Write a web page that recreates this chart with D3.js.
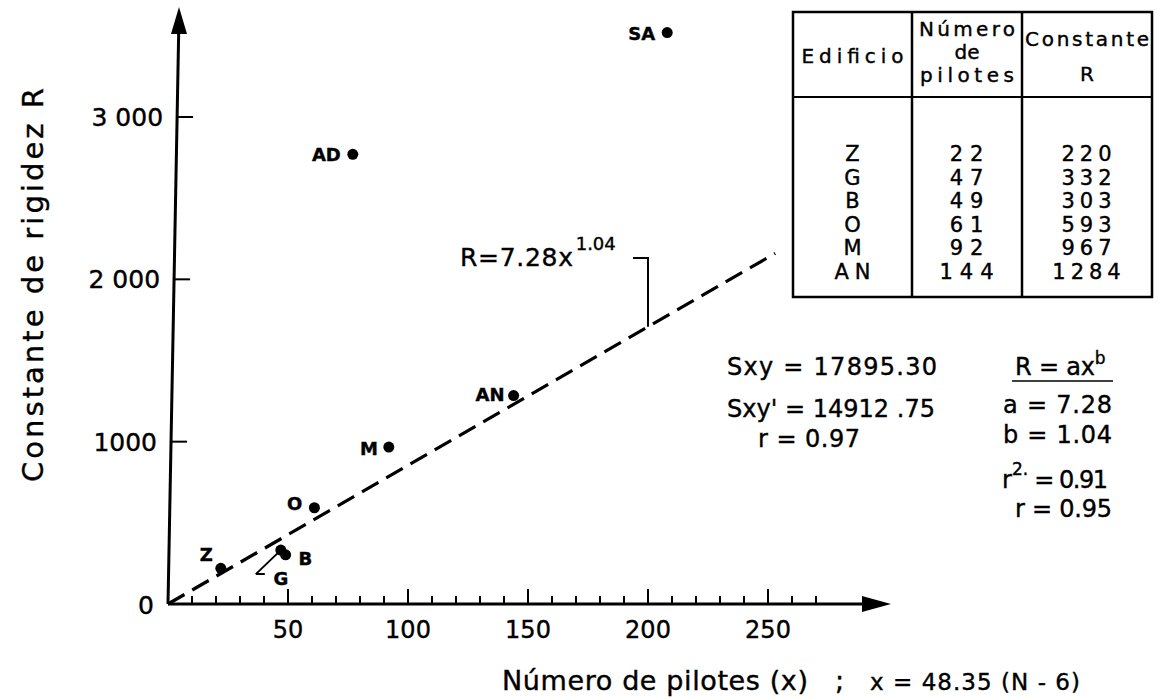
<!DOCTYPE html>
<meta charset="utf-8">
<script src="https://d3js.org/d3.v7.min.js"></script>
<style>
  body { margin: 0; background: #fff; }
  text { font-family: "DejaVu Sans", sans-serif; fill: #000; stroke: #000; stroke-width: 0.4px; }
</style>
<div id="chart"></div>
<script>

// buildings in the table (number of piles, rigidity constant R)
var buildings = ["Z", "G", "B", "O", "M", "AN"]
var piles     = [22, 47, 49, 61, 92, 144]
var rigidity  = [220, 332, 303, 593, 967, 1284]

// two buildings plotted but not in the table
var extraNames = ["AD", "SA"]
var extraPiles = [77, 208]
var extraR     = [2770, 3520]

// fitted line R = 7.28 x^1.04, as drawn (straight)
var fitX = [0, 253]
var fitR = [0, 2160]

var yTicks = [1000, 2000, 3000]
var yTickLabels = ["1000", "2 000", "3 000"]
var xTicks = [50, 100, 150, 200, 250]

var width = 1158, height = 699

var svg = d3.select("#chart").append("svg")
    .attr("width", width)
    .attr("height", height)

var x = d3.scaleLinear().domain([0, 300]).range([168, 888])
var y = d3.scaleLinear().domain([0, 3000]).range([604, 117])

// ---- x axis ----
svg.append("line")
    .attr("x1", x(0)).attr("y1", y(0))
    .attr("x2", 870).attr("y2", y(0))
    .attr("stroke", "#000").attr("stroke-width", 3)
svg.append("path")
    .attr("d", "M862," + (y(0) - 8) + " L891," + y(0) + " L862," + (y(0) + 8) + "Z")
    .attr("fill", "#000")

svg.selectAll(".xtick")
  .data(d3.range(10, 280, 10))
  .enter().append("line")
    .attr("x1", function(d) { return x(d) })
    .attr("x2", function(d) { return x(d) })
    .attr("y1", y(0))
    .attr("y2", function(d) { return y(0) - (d % 50 == 0 ? 15 : 8) })
    .attr("stroke", "#000").attr("stroke-width", 2)

svg.selectAll(".xlab")
  .data(xTicks)
  .enter().append("text")
    .attr("x", function(d) { return x(d) })
    .attr("y", 638)
    .attr("text-anchor", "middle")
    .style("font-size", "24px")
    .text(function(d) { return d })

// ---- y axis (hand drawn, leans a little to the right) ----
var lean = 0.0187
function yx(v) { return x(0) + (y(0) - y(v)) * lean }

svg.append("line")
    .attr("x1", x(0)).attr("y1", y(0))
    .attr("x2", x(0) + (y(0) - 30) * lean).attr("y2", 30)
    .attr("stroke", "#000").attr("stroke-width", 3)
svg.append("path")
    .attr("d", "M171,34 L179,7 L187,34Z")
    .attr("fill", "#000")

svg.selectAll(".ytick")
  .data(yTicks)
  .enter().append("line")
    .attr("x1", function(d) { return yx(d) })
    .attr("x2", function(d) { return yx(d) + 16 })
    .attr("y1", function(d) { return y(d) })
    .attr("y2", function(d) { return y(d) })
    .attr("stroke", "#000").attr("stroke-width", 2)

svg.selectAll(".ylab")
  .data(yTicks)
  .enter().append("text")
    .attr("x", function(d) { return yx(d) - 14 })
    .attr("y", function(d) { return y(d) + 9 })
    .attr("text-anchor", "end")
    .style("font-size", "25px")
    .text(function(d, i) { return yTickLabels[i] })

svg.append("text")
    .attr("x", 146).attr("y", y(0) + 10)
    .attr("text-anchor", "middle")
    .style("font-size", "25px")
    .text("0")

// axis titles
svg.append("text")
    .attr("transform", "translate(43,285) rotate(-90)")
    .attr("text-anchor", "middle")
    .attr("textLength", 394)
    .style("font-size", "29px")
    .text("Constante de rigidez R")

svg.append("text")
    .attr("x", 502).attr("y", 690)
    .attr("textLength", 306)
    .style("font-size", "27px")
    .text("Número de pilotes (x)")
svg.append("text")
    .attr("x", 835).attr("y", 690)
    .style("font-size", "27px")
    .text(";")
svg.append("text")
    .attr("x", 870).attr("y", 690)
    .attr("textLength", 210)
    .style("font-size", "23px")
    .text("x = 48.35 (N - 6)")

// ---- fitted line ----
var fit = fitX.map(function(d, i) { return [d, fitR[i]] })
var line = d3.line()
    .x(function(d) { return x(d[0]) })
    .y(function(d) { return y(d[1]) })

svg.append("path")
    .datum(fit)
    .attr("d", line)
    .attr("fill", "none")
    .attr("stroke", "#000")
    .attr("stroke-width", 3.2)
    .attr("stroke-dasharray", "19,9")

// callout to the line at x = 200
var calloutX = 200
var calloutR = d3.interpolateNumber(fitR[0], fitR[1])((calloutX - fitX[0]) / (fitX[1] - fitX[0]))
svg.append("path")
    .attr("d", "M" + (x(calloutX) - 15) + ",258 L" + x(calloutX) + ",258 L" + x(calloutX) + "," + y(calloutR))
    .attr("fill", "none")
    .attr("stroke", "#000").attr("stroke-width", 2)

var eq = svg.append("text")
    .attr("x", 460).attr("y", 266)
    .style("font-size", "25px")
eq.append("tspan").attr("textLength", 113).text("R=7.28x")
eq.append("tspan").attr("dx", 2).attr("dy", -16).style("font-size", "18px").text("1.04")

// ---- points ----
var points = buildings.map(function(d, i) { return { name: d, x: piles[i], r: rigidity[i] } })
  .concat(extraNames.map(function(d, i) { return { name: d, x: extraPiles[i], r: extraR[i] } }))

// label placement relative to each dot
var labelPos = {
  Z:  { dx: -8,  dy: -7,  anchor: "end" },
  G:  { dx: 0,   dy: 35,  anchor: "middle" },
  B:  { dx: 13,  dy: 10,  anchor: "start" },
  O:  { dx: -12, dy: 2,   anchor: "end" },
  M:  { dx: -11, dy: 8,   anchor: "end" },
  AN: { dx: -9,  dy: 5,   anchor: "end" },
  AD: { dx: -12, dy: 7,   anchor: "end" },
  SA: { dx: -12, dy: 7,   anchor: "end" }
}

svg.selectAll(".dot")
  .data(points)
  .enter().append("circle")
    .attr("cx", function(d) { return x(d.x) })
    .attr("cy", function(d) { return y(d.r) })
    .attr("r", 5.5)
    .attr("fill", "#000")

svg.selectAll(".plab")
  .data(points)
  .enter().append("text")
    .attr("x", function(d) { return x(d.x) + labelPos[d.name].dx })
    .attr("y", function(d) { return y(d.r) + labelPos[d.name].dy })
    .attr("text-anchor", function(d) { return labelPos[d.name].anchor })
    .style("font-size", "18px")
    .style("font-weight", "bold")
    .text(function(d) { return d.name })

// small leader from G label to its dot
var gx = x(piles[1]), gy = y(rigidity[1])
svg.append("path")
    .attr("d", "M" + (gx - 25) + "," + (gy + 24) + " L" + (gx - 16) + "," + (gy + 24) +
               " M" + (gx - 25) + "," + (gy + 24) + " L" + gx + "," + gy)
    .attr("fill", "none")
    .attr("stroke", "#000").attr("stroke-width", 2)

// ---- table ----
var cols = [793, 912, 1022, 1152]
var tTop = 12, tHead = 97, rowH = 23.6, tBottom = 297

svg.append("rect")
    .attr("x", cols[0]).attr("y", tTop)
    .attr("width", cols[3] - cols[0]).attr("height", tBottom - tTop)
    .attr("fill", "#fff").attr("stroke", "#000").attr("stroke-width", 2.5)
svg.selectAll(".tcol")
  .data([cols[1], cols[2]])
  .enter().append("line")
    .attr("x1", function(d) { return d }).attr("x2", function(d) { return d })
    .attr("y1", tTop).attr("y2", tBottom)
    .attr("stroke", "#000").attr("stroke-width", 2.5)
svg.append("line")
    .attr("x1", cols[0]).attr("x2", cols[3])
    .attr("y1", tHead).attr("y2", tHead)
    .attr("stroke", "#000").attr("stroke-width", 2)

function mid(i) { return (cols[i] + cols[i + 1]) / 2 }
var header = [
  { col: 0, y: 63, len: 102, t: "Edificio" },
  { col: 1, y: 36, len: 96,  t: "Número" },
  { col: 1, y: 59, len: null, t: "de" },
  { col: 1, y: 82, len: 94,  t: "pilotes" },
  { col: 2, y: 46, len: 124, t: "Constante" },
  { col: 2, y: 81, len: null, t: "R" }
]
svg.selectAll(".thead")
  .data(header)
  .enter().append("text")
    .attr("x", function(d) { return mid(d.col) })
    .attr("y", function(d) { return d.y })
    .attr("text-anchor", "middle")
    .attr("textLength", function(d) { return d.len })
    .style("font-size", "20px")
    .text(function(d) { return d.t })

var rows = svg.selectAll(".trow")
  .data(buildings)
  .enter().append("g")
    .attr("transform", function(d, i) { return "translate(0," + (161 + i * rowH) + ")" })

rows.append("text").attr("x", mid(0) + 3).attr("text-anchor", "middle")
    .style("font-size", "21px").style("letter-spacing", "6px")
    .text(function(d) { return d })
rows.append("text").attr("x", mid(1) + 3).attr("text-anchor", "middle")
    .style("font-size", "21px").style("letter-spacing", "7px")
    .text(function(d, i) { return piles[i] })
rows.append("text").attr("x", mid(2) + 2).attr("text-anchor", "middle")
    .style("font-size", "21px").style("letter-spacing", "5px")
    .text(function(d, i) { return rigidity[i] })

// ---- statistics ----
var statsLeft = [
  { x: 727, y: 375, len: 210, t: "Sxy = 17895.30" },
  { x: 727, y: 417, len: 208, t: "Sxy' = 14912 .75" },
  { x: 758, y: 447, len: 102, t: "r = 0.97" }
]
svg.selectAll(".sl")
  .data(statsLeft)
  .enter().append("text")
    .attr("x", function(d) { return d.x })
    .attr("y", function(d) { return d.y })
    .attr("textLength", function(d) { return d.len })
    .style("font-size", "24px")
    .text(function(d) { return d.t })

var model = svg.append("text").attr("x", 1015).attr("y", 375).style("font-size", "24px")
model.append("tspan").attr("textLength", 80).text("R = ax")
model.append("tspan").attr("dy", -11).style("font-size", "17px").text("b")
svg.append("line")
    .attr("x1", 1012).attr("x2", 1113).attr("y1", 381).attr("y2", 381)
    .attr("stroke", "#000").attr("stroke-width", 1.5)

var statsRight = [
  { x: 1003, y: 413, len: 109, t: "a = 7.28" },
  { x: 1003, y: 443, len: 109, t: "b = 1.04" },
  { x: 1015, y: 517, len: 97,  t: "r = 0.95" }
]
svg.selectAll(".sr")
  .data(statsRight)
  .enter().append("text")
    .attr("x", function(d) { return d.x })
    .attr("y", function(d) { return d.y })
    .attr("textLength", function(d) { return d.len })
    .style("font-size", "24px")
    .text(function(d) { return d.t })

var r2 = svg.append("text").attr("x", 1002).attr("y", 488).style("font-size", "24px")
r2.append("tspan").text("r")
r2.append("tspan").attr("dy", -13).style("font-size", "17px").text("2.")
r2.append("tspan").attr("dy", 13).attr("textLength", 80).text(" = 0.91")

</script>
